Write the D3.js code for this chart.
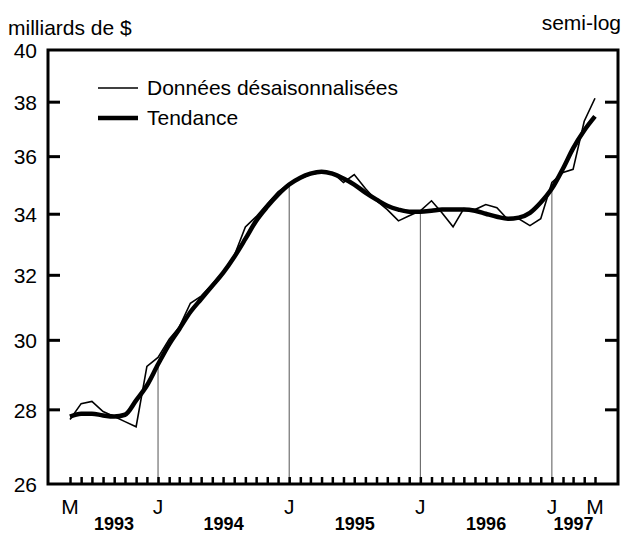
<!DOCTYPE html>
<html>
<head>
<meta charset="utf-8">
<script src="https://cdn.jsdelivr.net/npm/d3@7"></script>
<style>
  body { margin: 0; background: #fff; }
  text { font-family: "Liberation Sans", Arial, sans-serif; fill: #000; }
</style>
</head>
<body>
<script>
// Monthly series, May 1993 to May 1997 (billions of dollars)
const startMonth = "1993-05";
const rawValues = [
  27.72, 28.16, 28.22, 27.94, 27.80, 27.66, 27.52, 29.22, 29.48, 30.02,
  30.38, 31.11, 31.33, 31.71, 32.09, 32.61, 33.56, 33.90, 34.34, 34.75,
  35.03, 35.21, 35.35, 35.42, 35.42, 35.07, 35.35, 34.86, 34.44, 34.14,
  33.76, 33.93, 34.10, 34.44, 34.03, 33.56, 34.17, 34.14, 34.31, 34.20,
  33.80, 33.83, 33.60, 33.83, 35.07, 35.42, 35.53, 37.27, 38.13
];
const trendValues = [
  27.80, 27.88, 27.88, 27.83, 27.80, 27.85, 28.25, 28.67, 29.28, 29.87,
  30.32, 30.84, 31.24, 31.65, 32.06, 32.57, 33.16, 33.76, 34.24, 34.65,
  35.00, 35.24, 35.38, 35.45, 35.38, 35.21, 35.00, 34.72, 34.48, 34.27,
  34.14, 34.07, 34.07, 34.10, 34.14, 34.14, 34.14, 34.10, 34.00, 33.90,
  33.83, 33.87, 34.03, 34.38, 34.86, 35.56, 36.28, 36.93, 37.45
];
const yTicks = [26, 28, 30, 32, 34, 36, 38, 40];
const monthLabels = [
  { month: "1993-05", label: "M" },
  { month: "1994-01", label: "J" },
  { month: "1995-01", label: "J" },
  { month: "1996-01", label: "J" },
  { month: "1997-01", label: "J" },
  { month: "1997-05", label: "M" }
];
const yearLabels = ["1993", "1994", "1995", "1996", "1997"];
const januaryMonths = ["1994-01", "1995-01", "1996-01", "1997-01"];

const width = 623, height = 535;
const frame = { left: 48, right: 618, top: 50, bottom: 484 };
const fontSize = "21px";

const parseMonth = d3.timeParse("%Y-%m");
const start = parseMonth(startMonth);
const dates = rawValues.map((_, i) => d3.timeMonth.offset(start, i));
const end = dates[dates.length - 1];

const x = d3.scaleTime().domain([start, end]).range([70, 595]);
const y = d3.scaleLog().domain([26, 40]).range([frame.bottom, frame.top]);

const svg = d3.select("body").append("svg")
  .attr("width", width)
  .attr("height", height)
  .attr("viewBox", `0 0 ${width} ${height}`);

// Header texts
svg.append("text").attr("x", 8).attr("y", 35)
  .style("font-size", fontSize).text("milliards de $");
svg.append("text").attr("x", 621).attr("y", 30)
  .attr("text-anchor", "end").style("font-size", fontSize).text("semi-log");

// Vertical January lines up to the trend
svg.append("g").selectAll("line")
  .data(januaryMonths.map(parseMonth))
  .enter().append("line")
  .attr("x1", (d) => x(d)).attr("x2", (d) => x(d))
  .attr("y1", frame.bottom)
  .attr("y2", (d) => y(trendValues[d3.timeMonth.count(start, d)]))
  .attr("stroke", "#555").attr("stroke-width", 1);

// Y ticks (inside on both sides) and labels
const yAxisL = d3.axisRight(y).tickValues(yTicks.slice(1, -1)).tickSize(12).tickFormat("");
const yAxisR = d3.axisLeft(y).tickValues(yTicks.slice(1, -1)).tickSize(13).tickFormat("");
for (const [axis, xpos] of [[yAxisL, frame.left], [yAxisR, frame.right]]) {
  const g = svg.append("g").attr("transform", `translate(${xpos},0)`).call(axis);
  g.select(".domain").remove();
  g.selectAll("line").attr("stroke", "#000").attr("stroke-width", 3);
}
svg.append("g").selectAll("text")
  .data(yTicks).enter().append("text")
  .attr("x", 37).attr("y", (d) => y(d) + 1)
  .attr("dy", "0.35em").attr("text-anchor", "end")
  .style("font-size", fontSize).text((d) => d);

// Month ticks along the bottom
const xAxis = d3.axisTop(x).tickValues(dates).tickSize(7).tickFormat("");
const gx = svg.append("g").attr("transform", `translate(0,${frame.bottom})`).call(xAxis);
gx.select(".domain").remove();
gx.selectAll("line").attr("stroke", "#000").attr("stroke-width", 2.5);

svg.append("g").selectAll("text")
  .data(monthLabels).enter().append("text")
  .attr("x", (d) => x(parseMonth(d.month))).attr("y", 514)
  .attr("text-anchor", "middle").style("font-size", fontSize)
  .text((d) => d.label);

svg.append("g").selectAll("text")
  .data(yearLabels).enter().append("text")
  .attr("x", (d) => {
    const a = d3.max([start, parseMonth(d + "-01")]);
    const b = d3.min([end, parseMonth((+d + 1) + "-01")]);
    return (x(a) + x(b)) / 2;
  })
  .attr("y", 530)
  .attr("text-anchor", "middle")
  .style("font-size", "18px").style("font-weight", "bold")
  .text((d) => d);

// Series
const line = d3.line().x((d, i) => x(dates[i])).y((d) => y(d));
svg.append("path").datum(rawValues)
  .attr("d", line).attr("fill", "none")
  .attr("stroke", "#000").attr("stroke-width", 1.6).attr("stroke-linejoin", "miter");
svg.append("path").datum(trendValues)
  .attr("d", d3.line().curve(d3.curveMonotoneX).x((d, i) => x(dates[i])).y((d) => y(d)))
  .attr("fill", "none").attr("stroke", "#000").attr("stroke-width", 4.5)
  .attr("stroke-linejoin", "round");

// Frame
svg.append("rect")
  .attr("x", frame.left).attr("y", frame.top)
  .attr("width", frame.right - frame.left).attr("height", frame.bottom - frame.top)
  .attr("fill", "none").attr("stroke", "#000").attr("stroke-width", 3);

// Legend
const legend = [
  { label: "Données désaisonnalisées", w: 1.6, y: 88 },
  { label: "Tendance", w: 4.5, y: 118 }
];
const lg = svg.append("g").selectAll("g").data(legend).enter().append("g");
lg.append("line").attr("x1", 98).attr("x2", 138)
  .attr("y1", (d) => d.y).attr("y2", (d) => d.y)
  .attr("stroke", "#000").attr("stroke-width", (d) => d.w);
lg.append("text").attr("x", 147).attr("y", (d) => d.y)
  .attr("dy", "0.35em").style("font-size", fontSize).text((d) => d.label);
</script>
</body>
</html>
